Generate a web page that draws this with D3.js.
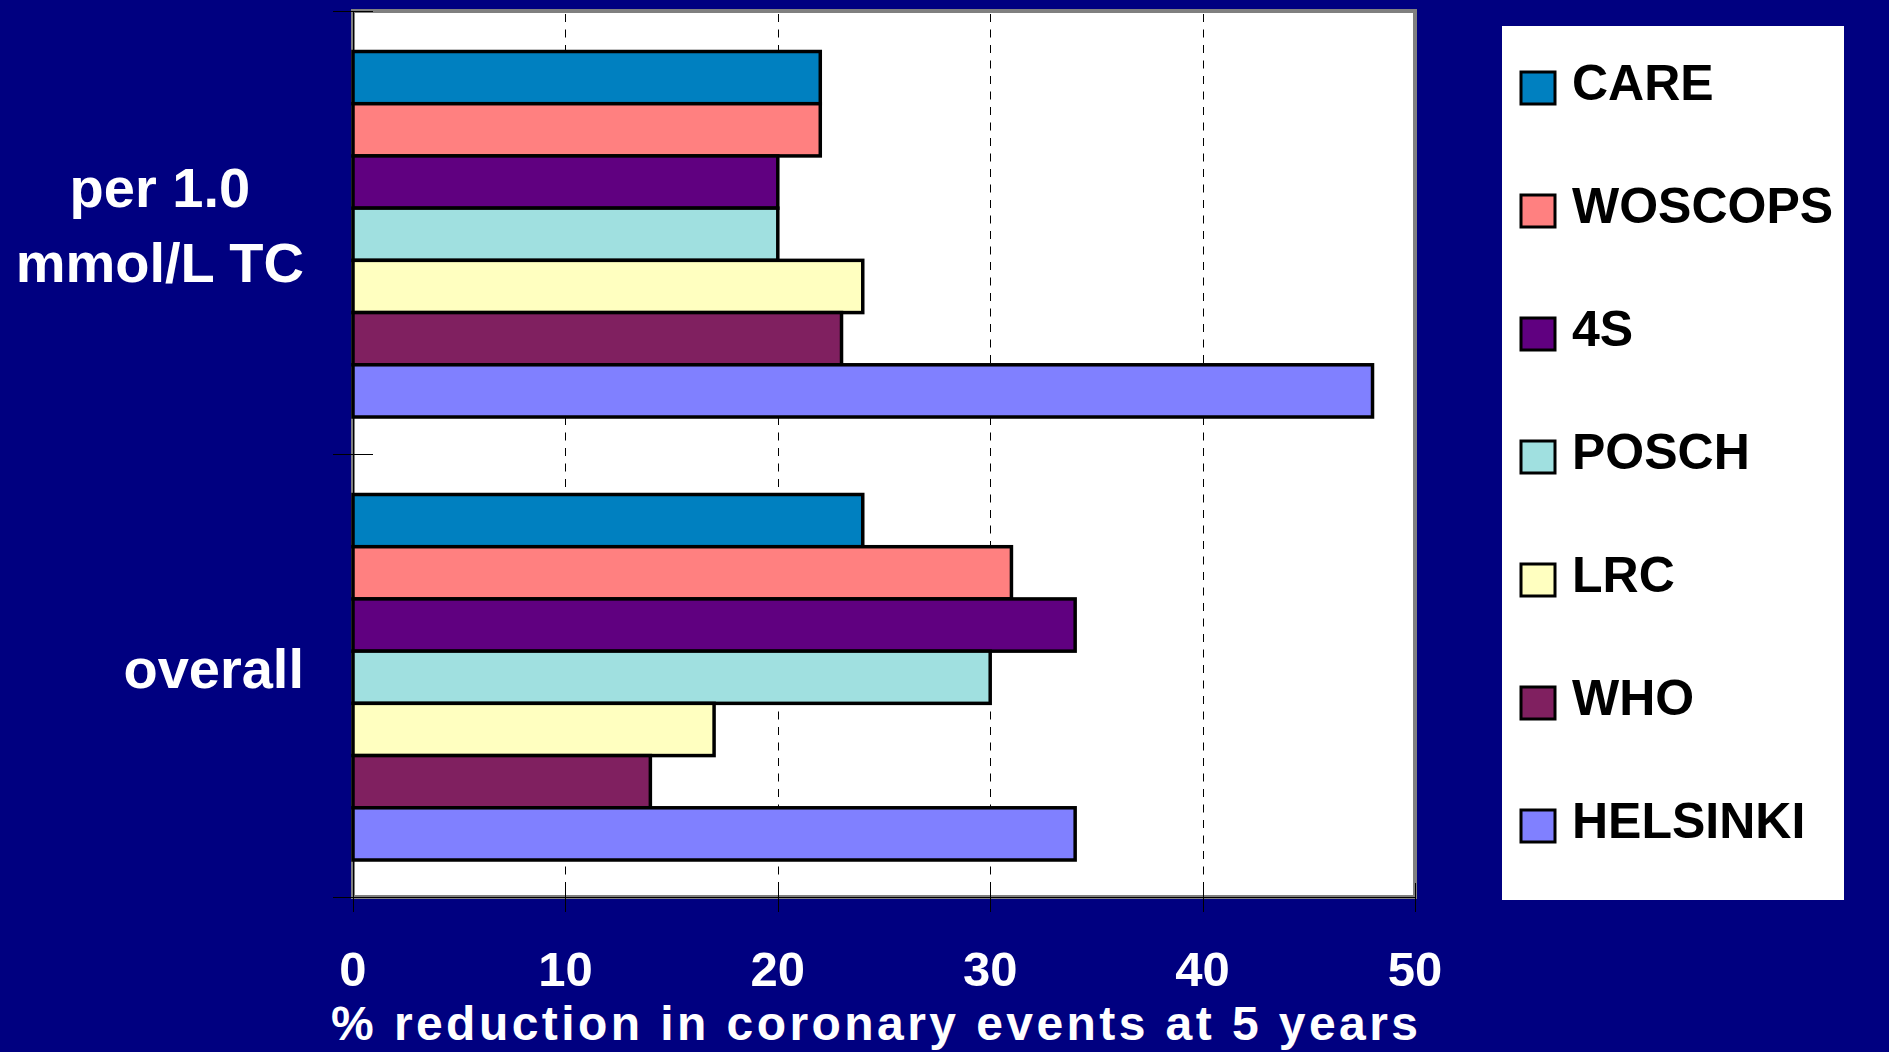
<!DOCTYPE html>
<html>
<head>
<meta charset="utf-8">
<script src="https://cdn.jsdelivr.net/npm/d3@7"></script>
<style>
  html, body { margin: 0; padding: 0; background: #000080; overflow: hidden; }
  svg { display: block; }
  text { font-family: "Liberation Sans", Arial, Helvetica, sans-serif; font-weight: bold; }
</style>
</head>
<body>
<svg id="chart" width="1889" height="1052"></svg>
<script>
// ---- data ----
const categories = ["per 1.0 mmol/L TC", "overall"];
const categoryLines = [["per 1.0", "mmol/L TC"], ["overall"]];
const series = ["CARE", "WOSCOPS", "4S", "POSCH", "LRC", "WHO", "HELSINKI"];
const perTCValues = [22, 22, 20, 20, 24, 23, 48];
const overallValues = [24, 31, 34, 30, 17, 14, 34];
const xTicks = [0, 10, 20, 30, 40, 50];
const xTitle = "% reduction in coronary events at 5 years";

// ---- styles ----
const colors = ["#0080C0", "#FF8080", "#600080", "#A0E0E0", "#FFFFC0", "#802060", "#8080FF"];

const values = [perTCValues, overallValues];

const svg = d3.select("#chart");
svg.append("rect").attr("width", 1889).attr("height", 1052).attr("fill", "#000080");

const plot = { left: 353, right: 1415, top: 11, bottom: 897 };

const x = d3.scaleLinear().domain([0, 50]).range([plot.left, plot.right]);
const y = d3.scaleBand().domain(categories).range([plot.top, plot.bottom]).padding(0);
const ySeries = d3.scaleBand().domain(series)
  .range([40.5, y.bandwidth() - 37]).padding(0);

// plot area
svg.append("rect")
  .attr("x", plot.left).attr("y", plot.top)
  .attr("width", plot.right - plot.left).attr("height", plot.bottom - plot.top)
  .attr("fill", "#ffffff").attr("stroke", "#808080").attr("stroke-width", 4);

// gridlines
svg.append("g").selectAll("line")
  .data(xTicks.filter(t => t > 0 && t < 50))
  .join("line")
  .attr("x1", d => Math.round(x(d)) + 0.5).attr("x2", d => Math.round(x(d)) + 0.5)
  .attr("y1", plot.top + 3).attr("y2", plot.bottom - 2)
  .attr("stroke", "#000").attr("stroke-width", 1)
  .attr("stroke-dasharray", "8,7.5");

// axis lines
svg.append("line").attr("x1", plot.left).attr("x2", plot.right)
  .attr("y1", plot.bottom + 0.5).attr("y2", plot.bottom + 0.5)
  .attr("stroke", "#000").attr("stroke-width", 1);
svg.append("line").attr("x1", plot.left + 0.5).attr("x2", plot.left + 0.5)
  .attr("y1", plot.top).attr("y2", plot.bottom)
  .attr("stroke", "#000").attr("stroke-width", 1);

// x ticks (cross)
svg.append("g").selectAll("line").data(xTicks).join("line")
  .attr("x1", d => Math.round(x(d)) + 0.5).attr("x2", d => Math.round(x(d)) + 0.5)
  .attr("y1", plot.bottom - 14).attr("y2", plot.bottom + 15)
  .attr("stroke", "#000").attr("stroke-width", 1);

// y ticks (category boundaries, cross)
const yBounds = [plot.top, ...categories.map(c => y(c) + y.bandwidth())];
svg.append("g").selectAll("line").data(yBounds).join("line")
  .attr("x1", plot.left - 20).attr("x2", plot.left + 20)
  .attr("y1", d => Math.round(d) + 0.5).attr("y2", d => Math.round(d) + 0.5)
  .attr("stroke", "#000").attr("stroke-width", 1);

// bars
categories.forEach((cat, ci) => {
  const g = svg.append("g").attr("transform", `translate(0,${y(cat)})`);
  g.selectAll("rect").data(series).join("rect")
    .attr("x", x(0))
    .attr("y", s => ySeries(s))
    .attr("width", (s, i) => x(values[ci][i]) - x(0))
    .attr("height", ySeries.bandwidth())
    .attr("fill", (s, i) => colors[i])
    .attr("stroke", "#000").attr("stroke-width", 3.5);
});

// category labels
const labelRight = 304;
categories.forEach((cat, ci) => {
  const lines = categoryLines[ci];
  const cy = y(cat) + y.bandwidth() / 2;
  const g = svg.append("g");
  const texts = g.selectAll("text").data(lines).join("text")
    .attr("fill", "#fff").attr("font-size", 56)
    .attr("text-anchor", "middle")
    .attr("y", (d, i) => cy + 12 + (i - (lines.length - 1) / 2) * 75)
    .text(d => d);
  let w = 0;
  texts.each(function () { w = Math.max(w, this.getComputedTextLength()); });
  texts.attr("x", labelRight - w / 2);
});

// x tick labels
svg.append("g").selectAll("text").data(xTicks).join("text")
  .attr("x", d => x(d)).attr("y", 986)
  .attr("text-anchor", "middle").attr("fill", "#fff").attr("font-size", 49)
  .text(d => d);

// x title
svg.append("text")
  .attr("x", 331).attr("y", 1040)
  .attr("fill", "#fff").attr("font-size", 48)
  .attr("textLength", 1087).attr("lengthAdjust", "spacing")
  .text(xTitle);

// legend
const legend = svg.append("g");
legend.append("rect").attr("x", 1502).attr("y", 26).attr("width", 342).attr("height", 874)
  .attr("fill", "#fff");
const legendY = d3.scalePoint().domain(series).range([88, 826]);
const items = legend.selectAll("g.item").data(series).join("g").attr("class", "item")
  .attr("transform", d => `translate(0,${legendY(d)})`);
items.append("rect").attr("x", 1521).attr("y", -16).attr("width", 34).attr("height", 32)
  .attr("fill", (d, i) => colors[i]).attr("stroke", "#000").attr("stroke-width", 3);
items.append("text").attr("x", 1572).attr("y", 12)
  .attr("fill", "#000").attr("font-size", 50)
  .text(d => d);
</script>
</body>
</html>
